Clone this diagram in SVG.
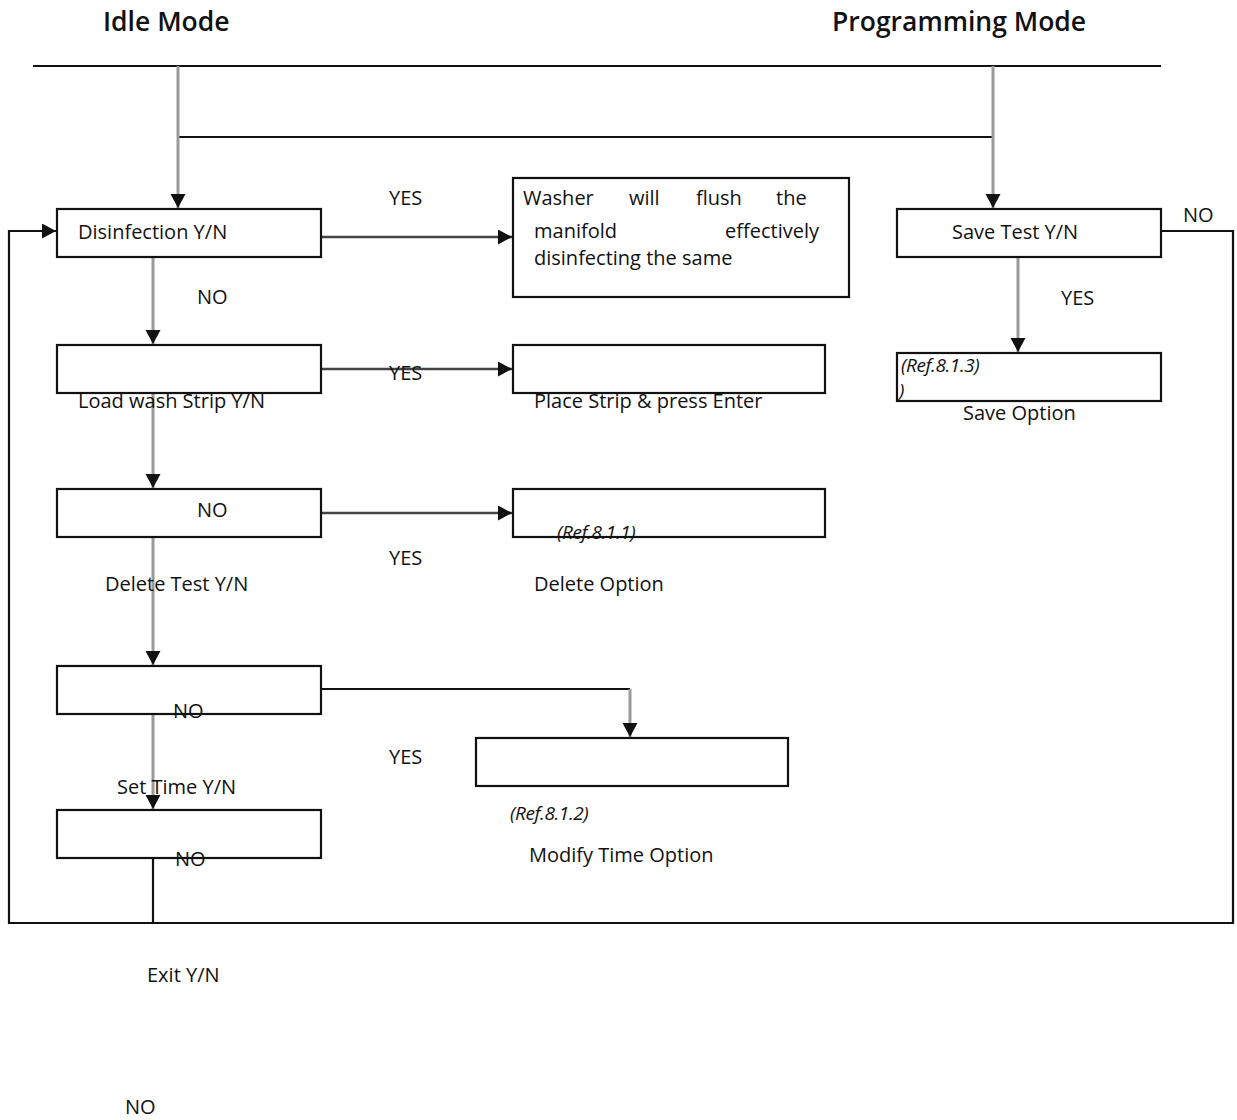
<svg xmlns="http://www.w3.org/2000/svg" width="1237" height="1120" viewBox="0 0 1237 1120">
  <style>
    text { font-family: "Open Sans", "Noto Sans", "DejaVu Sans", sans-serif; font-size: 20px; fill: #111; }
    .title { font-size: 26.5px; font-weight: 600; }
    .ref { font-style: italic; font-size: 19px; letter-spacing: -0.4px; }
    .box { fill: #fff; stroke: #111; stroke-width: 2.2; }
    .wire { fill: none; stroke: #111; stroke-width: 2.2; }
    .flow { fill: none; stroke: #9a9a9a; stroke-width: 3; }
    .hflow { fill: none; stroke: #444; stroke-width: 2.5; }
  </style>
  <defs>
    <marker id="arrow" markerUnits="userSpaceOnUse" markerWidth="16" markerHeight="16" refX="14" refY="7.5" orient="auto">
      <path d="M0,0 L14,7.5 L0,15 Z" fill="#111"/>
    </marker>
  </defs>
  <rect width="1237" height="1120" fill="#fff"/>

  <!-- headings -->
  <text class="title" x="103" y="31">Idle Mode</text>
  <text class="title" x="832" y="31">Programming Mode</text>

  <!-- connectors -->
  <g id="connectors">
    <line class="wire" x1="33" y1="66" x2="1161" y2="66"/>
    <line class="wire" x1="178" y1="137" x2="993" y2="137"/>
    <line class="flow" x1="178" y1="66" x2="178" y2="208" marker-end="url(#arrow)"/>
    <line class="flow" x1="993" y1="66" x2="993" y2="208" marker-end="url(#arrow)"/>

    <!-- left column, NO branches -->
    <line class="flow" x1="153" y1="257" x2="153" y2="344" marker-end="url(#arrow)"/>
    <line class="flow" x1="153" y1="393" x2="153" y2="488" marker-end="url(#arrow)"/>
    <line class="flow" x1="153" y1="537" x2="153" y2="665" marker-end="url(#arrow)"/>
    <line class="flow" x1="153" y1="714" x2="153" y2="809" marker-end="url(#arrow)"/>

    <!-- YES branches -->
    <line class="hflow" x1="321" y1="237" x2="512" y2="237" marker-end="url(#arrow)"/>
    <line class="hflow" x1="321" y1="369" x2="512" y2="369" marker-end="url(#arrow)"/>
    <line class="hflow" x1="321" y1="513" x2="512" y2="513" marker-end="url(#arrow)"/>
    <polyline class="wire" points="321,689 630,689"/>
    <line class="flow" x1="630" y1="689" x2="630" y2="737" marker-end="url(#arrow)"/>

    <!-- programming side -->
    <line class="flow" x1="1018" y1="257" x2="1018" y2="352" marker-end="url(#arrow)"/>

    <!-- return loop to Disinfection -->
    <polyline class="wire" points="153,858 153,923"/>
    <polyline class="wire" points="1161,231 1233,231 1233,923 9,923 9,231 56,231" marker-end="url(#arrow)"/>
  </g>

  <!-- nodes -->
  <g id="disinfection">
    <rect class="box" x="57" y="209" width="264" height="48"/>
    <text x="78" y="239">Disinfection Y/N</text>
  </g>
  <g id="flush">
    <rect class="box" x="513" y="178" width="336" height="119"/>
    <text x="523" y="205">Washer</text>
    <text x="629" y="205">will</text>
    <text x="696" y="205">flush</text>
    <text x="776" y="205">the</text>
    <text x="534" y="238">manifold</text>
    <text x="725" y="238">effectively</text>
    <text x="534" y="265">disinfecting the same</text>
  </g>
  <g id="save-test">
    <rect class="box" x="897" y="209" width="264" height="48"/>
    <text x="952" y="239">Save Test Y/N</text>
  </g>
  <g id="save-option">
    <rect class="box" x="897" y="353" width="264" height="48"/>
    <text class="ref" x="901" y="372">(Ref.8.1.3)</text>
    <text class="ref" x="899" y="397">)</text>
    <text x="963" y="420">Save Option</text>
  </g>
  <g id="load-strip">
    <rect class="box" x="57" y="345" width="264" height="48"/>
    <text x="78" y="408">Load wash Strip Y/N</text>
  </g>
  <g id="place-strip">
    <rect class="box" x="513" y="345" width="312" height="48"/>
    <text x="534" y="408">Place Strip &amp; press Enter</text>
  </g>
  <g id="delete-test">
    <rect class="box" x="57" y="489" width="264" height="48"/>
    <text x="105" y="591">Delete Test Y/N</text>
  </g>
  <g id="delete-option">
    <rect class="box" x="513" y="489" width="312" height="48"/>
    <text class="ref" x="557" y="539">(Ref.8.1.1)</text>
    <text x="534" y="591">Delete Option</text>
  </g>
  <g id="set-time">
    <rect class="box" x="57" y="666" width="264" height="48"/>
    <text x="117" y="794">Set Time Y/N</text>
  </g>
  <g id="modify-time">
    <rect class="box" x="476" y="738" width="312" height="48"/>
    <text class="ref" x="510" y="820">(Ref.8.1.2)</text>
    <text x="529" y="862">Modify Time Option</text>
  </g>
  <g id="exit">
    <rect class="box" x="57" y="810" width="264" height="48"/>
    <text x="147" y="982">Exit Y/N</text>
  </g>

  <!-- branch labels -->
  <g id="labels">
    <text x="389" y="205">YES</text>
    <text x="197" y="304">NO</text>
    <text x="389" y="380">YES</text>
    <text x="197" y="517">NO</text>
    <text x="389" y="565">YES</text>
    <text x="173" y="718">NO</text>
    <text x="389" y="764">YES</text>
    <text x="175" y="866">NO</text>
    <text x="125" y="1114">NO</text>
    <text x="1183" y="222">NO</text>
    <text x="1061" y="305">YES</text>
  </g>
</svg>
